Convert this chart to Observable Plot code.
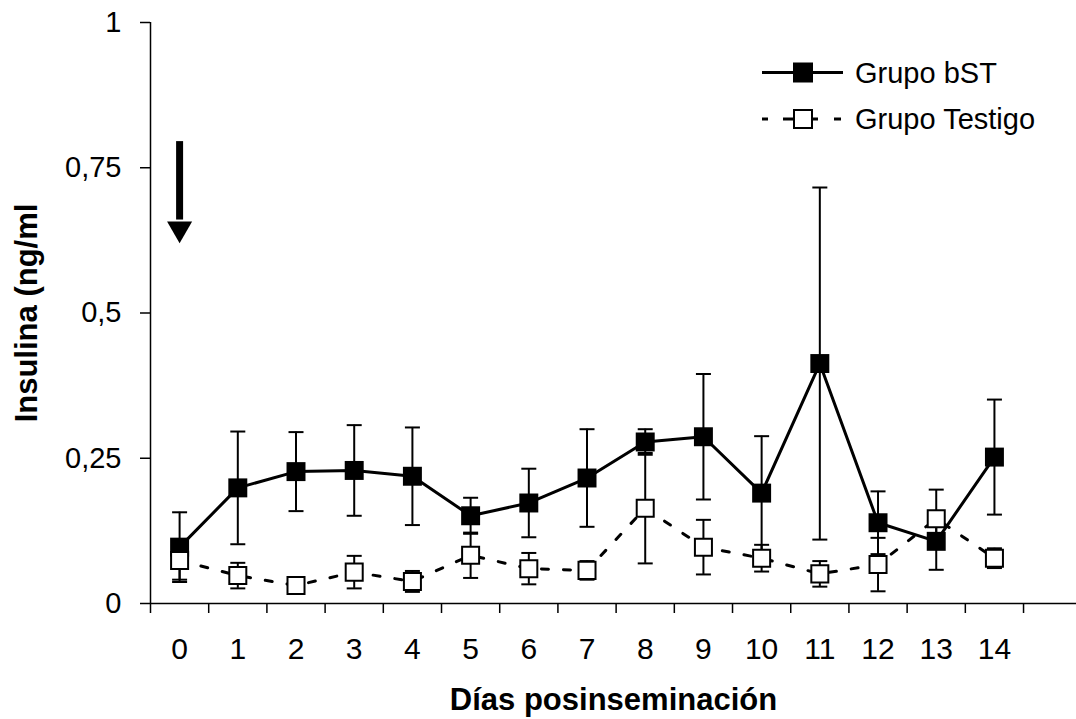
<!DOCTYPE html>
<html>
<head>
<meta charset="utf-8">
<script src="https://cdn.jsdelivr.net/npm/d3@7"></script>
<script src="https://cdn.jsdelivr.net/npm/@observablehq/plot@0.6"></script>
<style>
  html, body { margin: 0; padding: 0; background: white; }
  #chart { position: relative; width: 1076px; height: 719px; }
</style>
</head>
<body>
<div id="chart"></div>
<script>
// ---- data ----
const days = [0, 1, 2, 3, 4, 5, 6, 7, 8, 9, 10, 11, 12, 13, 14];
const bstMean = [0.097, 0.199, 0.227, 0.229, 0.219, 0.151, 0.173, 0.216, 0.278, 0.287, 0.190, 0.413, 0.139, 0.107, 0.252];
const bstErr  = [0.060, 0.097, 0.068, 0.078, 0.084, 0.031, 0.059, 0.084, 0.022, 0.108, 0.098, 0.303, 0.054, 0.049, 0.099];
const testMean = [0.074, 0.048, 0.031, 0.054, 0.038, 0.083, 0.060, 0.057, 0.164, 0.097, 0.078, 0.051, 0.067, 0.146, 0.078];
const testErr  = [0.033, 0.022, 0.012, 0.028, 0.018, 0.039, 0.027, 0.016, 0.095, 0.047, 0.023, 0.022, 0.046, 0.050, 0.017];
const yTicks = [0, 0.25, 0.5, 0.75, 1];
const yTickLabels = ["0", "0,25", "0,5", "0,75", "1"];
const seriesNames = ["Grupo bST", "Grupo Testigo"];
const xLabel = "Días posinseminación";
const yLabel = "Insulina (ng/ml";
// arrow annotation (day, top of shaft, end of shaft, head centre)
const arrowDay = 0, arrowTop = 0.795, arrowShaftEnd = 0.66, arrowHead = 0.645;

// ---- tables ----
const mk = (mean, err) => days.map((d, i) => ({day: d, v: mean[i], lo: mean[i] - err[i], hi: mean[i] + err[i]}));
const bst = mk(bstMean, bstErr);
const test = mk(testMean, testErr);
const boundaries = days.map(d => d - 0.5).concat([days[days.length - 1] + 0.5]);

const capSymbol = {
  draw(ctx, size) {
    const w = Math.sqrt(size / Math.PI);
    ctx.moveTo(-w, 0);
    ctx.lineTo(w, 0);
  }
};

const font = "'Liberation Sans', Arial, Helvetica, sans-serif";

const errMarks = (data) => [
  Plot.ruleX(data, {x: "day", y1: "lo", y2: "hi", stroke: "black", strokeWidth: 2}),
  Plot.dot(data, {x: "day", y: "hi", symbol: capSymbol, r: 7.5, stroke: "black", strokeWidth: 2, fill: "none"}),
  Plot.dot(data, {x: "day", y: "lo", symbol: capSymbol, r: 7.5, stroke: "black", strokeWidth: 2, fill: "none"})
];

const chart = Plot.plot({
  width: 1076,
  height: 719,
  marginLeft: 150,
  marginRight: 0,
  marginTop: 22,
  marginBottom: 116,
  style: {fontFamily: font, fontSize: "29px", color: "black", background: "white"},
  x: {type: "linear", domain: [-0.5, 15.41]},
  y: {domain: [0, 1]},
  marks: [
    Plot.axisY({ticks: yTicks, tickFormat: d => yTickLabels[yTicks.indexOf(d)], tickSize: 10, tickPadding: 19, fontSize: 29, strokeWidth: 1.5, label: null}),
    Plot.axisX({ticks: boundaries, tickSize: 10, tickFormat: () => "", strokeWidth: 1.5, label: null}),
    Plot.axisX({ticks: days, tickSize: 0, tickPadding: 34, fontSize: 30, tickFormat: d => String(d), label: null}),
    Plot.ruleY([0], {stroke: "black", strokeWidth: 1.5}),
    Plot.ruleX([-0.5], {stroke: "black", strokeWidth: 1.5}),
    // bST series
    Plot.line(bst, {x: "day", y: "v", stroke: "black", strokeWidth: 3}),
    ...errMarks(bst),
    Plot.dot(bst, {x: "day", y: "v", symbol: "square", r: 10.7, fill: "black", stroke: "none"}),
    // Testigo series
    Plot.line(test, {x: "day", y: "v", stroke: "black", strokeWidth: 3, strokeDasharray: "7,15"}),
    ...errMarks(test),
    Plot.dot(test, {x: "day", y: "v", symbol: "square", r: 9.6, fill: "white", stroke: "black", strokeWidth: 2}),
    // arrow
    Plot.ruleX([{x: arrowDay, y1: arrowTop, y2: arrowShaftEnd}], {x: "x", y1: "y1", y2: "y2", stroke: "black", strokeWidth: 7}),
    Plot.dot([{x: arrowDay, y: arrowHead}], {x: "x", y: "y", symbol: "triangle", rotate: 180, r: 9.3, fill: "black", stroke: "none"}),
    // axis titles
    Plot.text([yLabel], {text: d => d, frameAnchor: "left", dx: -123, rotate: -90, textAnchor: "middle", lineAnchor: "middle", fontSize: 31, fontWeight: "bold", fill: "black"}),
    Plot.text([xLabel], {text: d => d, frameAnchor: "bottom", dy: 97, textAnchor: "middle", lineAnchor: "middle", fontSize: 31, fontWeight: "bold", fill: "black"})
  ]
});

document.getElementById("chart").appendChild(chart);

// ---- legend inside the plot (top right) ----
const svg = d3.select(chart);
const lg = svg.append("g").attr("font-family", font).attr("font-size", 29).attr("fill", "black").attr("text-anchor", "start");
// row 1
lg.append("line").attr("x1", 762).attr("x2", 843).attr("y1", 72.5).attr("y2", 72.5).attr("stroke", "black").attr("stroke-width", 3);
lg.append("rect").attr("x", 793).attr("y", 62.5).attr("width", 20).attr("height", 20).attr("fill", "black");
lg.append("text").attr("x", 855).attr("y", 72.5).attr("dy", "0.35em").text(seriesNames[0]);
// row 2
[[762, 768], [783, 793], [811, 818], [834, 841]].forEach(([a, b]) =>
  lg.append("line").attr("x1", a).attr("x2", b).attr("y1", 119).attr("y2", 119).attr("stroke", "black").attr("stroke-width", 3));
lg.append("rect").attr("x", 794).attr("y", 110).attr("width", 18).attr("height", 18).attr("fill", "white").attr("stroke", "black").attr("stroke-width", 2);
lg.append("text").attr("x", 855).attr("y", 119).attr("dy", "0.35em").text(seriesNames[1]);
</script>
</body>
</html>
